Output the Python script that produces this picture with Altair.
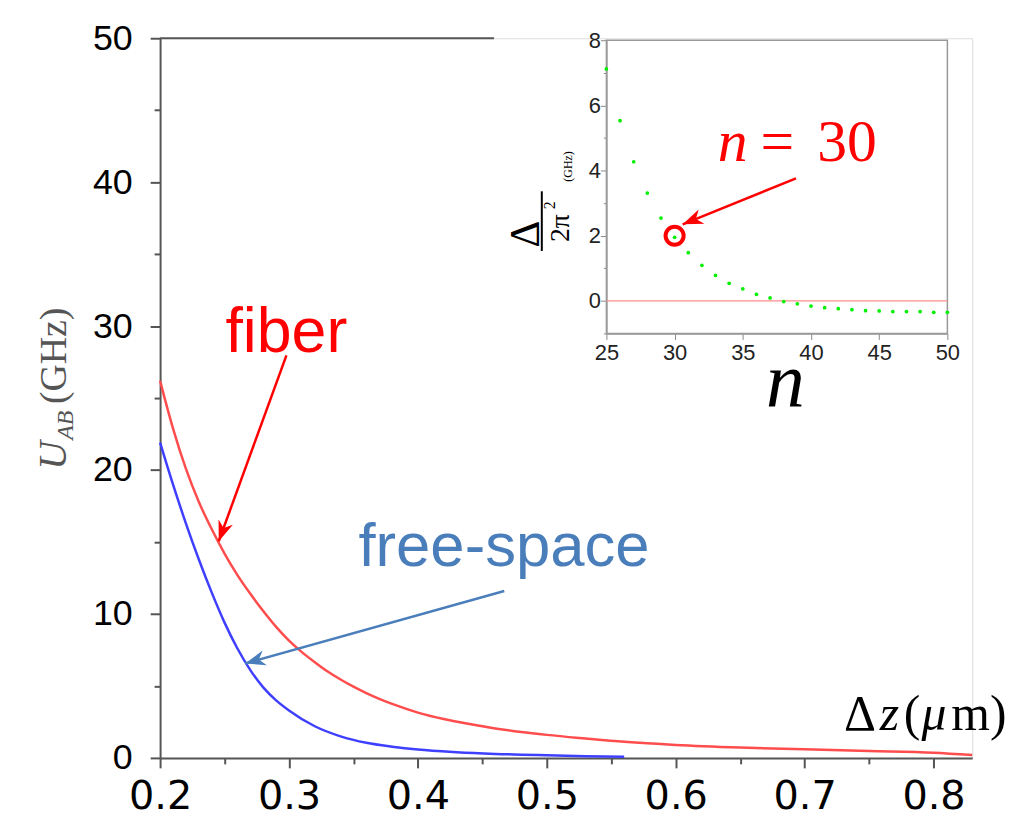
import altair as alt
import pandas as pd

# ---------------- data ----------------
fiber_dz = [0.20, 0.21, 0.22, 0.23, 0.24, 0.25, 0.26, 0.27, 0.28, 0.29, 0.30, 0.31, 0.32,
            0.33, 0.34, 0.35, 0.36, 0.37, 0.38, 0.40, 0.42, 0.44, 0.46, 0.48, 0.50, 0.53,
            0.56, 0.60, 0.65, 0.70, 0.75, 0.80, 0.83]
fiber_u = [26.2, 22.9, 20.1, 17.8, 15.9, 14.2, 12.7, 11.4, 10.2, 9.1, 8.15, 7.35, 6.65,
           6.0, 5.45, 4.95, 4.5, 4.1, 3.75, 3.15, 2.7, 2.35, 2.05, 1.8, 1.6, 1.35,
           1.12, 0.9, 0.72, 0.6, 0.48, 0.36, 0.2]

free_dz = [0.20, 0.21, 0.22, 0.23, 0.24, 0.25, 0.26, 0.27, 0.28, 0.29, 0.30, 0.32, 0.34,
           0.36, 0.38, 0.40, 0.43, 0.46, 0.50, 0.53, 0.56]
free_u = [21.9, 19.0, 16.3, 13.8, 11.5, 9.4, 7.6, 6.1, 4.9, 4.0, 3.3, 2.2, 1.5,
          1.05, 0.78, 0.58, 0.40, 0.28, 0.18, 0.12, 0.08]

inset_n = list(range(25, 51))
inset_delta = [7.12, 5.53, 4.27, 3.31, 2.54, 1.95, 1.48, 1.09, 0.78, 0.54, 0.37, 0.20, 0.09,
               -0.02, -0.09, -0.16, -0.21, -0.24, -0.27, -0.30, -0.31, -0.33, -0.33, -0.33,
               -0.35, -0.35]
highlight_n = [30]
highlight_delta = [2.0]

main_x_ticks = [0.2, 0.25, 0.3, 0.35, 0.4, 0.45, 0.5, 0.55, 0.6, 0.65, 0.7, 0.75, 0.8]
main_y_ticks = [0, 5, 10, 15, 20, 25, 30, 35, 40, 45, 50]
inset_x_ticks = [25, 30, 35, 40, 45, 50]
inset_y_ticks = list(range(-1, 9))

# annotation geometry (data units)
fiber_arrow = {"x0": [0.298], "y0": [27.97], "x1": [0.2455], "y1": [15.05]}
free_arrow = {"x0": [0.467], "y0": [11.6], "x1": [0.266], "y1": [6.56]}
inset_arrow = {"x0": [38.9], "y0": [3.76], "x1": [30.59], "y1": [2.35]}
top_line = {"x0": [0.2], "x1": [0.459], "y": [50]}
inset_frame = {"x0": [25], "x1": [50], "y0": [-1], "y1": [8]}
zero_line = {"x0": [25], "x1": [50], "y": [0]}

# ---------------- layout ----------------
OX, OY = 161, 36
W, H = 817, 724
SANS = "Liberation Sans"
WIDE = "DejaVu Sans"
SERIF = "Liberation Serif"
AXC = "#555555"
ARROW = "M0,0 L-2,-0.75 L-1.4,0 L-2,0.75 Z"

mx = alt.Scale(domain=[0.2, 0.83], nice=False, zero=False)
my = alt.Scale(domain=[0, 50], nice=False, zero=False)
ix = alt.Scale(domain=[25, 50], range=[449, 792], nice=False, zero=False)
iy = alt.Scale(domain=[-1, 8], range=[297, 2], nice=False, zero=False)

x_axis = alt.Axis(
    values=main_x_ticks, orient="bottom", title=None, grid=False,
    labelExpr="round(datum.value*20) % 2 == 0 ? format(datum.value, '.1f') : ''",
    tickSize={"condition": {"test": "round(datum.value*20) % 2 == 0", "value": 10}, "value": 6},
    domainColor=AXC, domainWidth=2, tickColor=AXC, tickWidth=2,
    labelFont=WIDE, labelFontSize=40, labelColor="black", labelPadding=9,
    labelFlush=False, labelOverlap=False,
)
y_axis = alt.Axis(
    values=main_y_ticks, orient="left", title=None, grid=False,
    labelExpr="datum.value % 10 == 0 ? datum.label : ''",
    tickSize={"condition": {"test": "datum.value % 10 == 0", "value": 10}, "value": 6},
    domainColor=AXC, domainWidth=2, tickColor=AXC, tickWidth=2,
    labelFont=SANS, labelFontSize=36, labelColor="black", labelPadding=18,
    labelFlush=False, labelOverlap=False,
)
ix_axis = alt.Axis(
    values=inset_x_ticks, orient="bottom", offset=-427, title=None, grid=False,
    labelExpr="format(datum.value, 'd')", tickSize=6,
    domainColor="#999999", domainWidth=1.5, tickColor="#888888", tickWidth=1,
    labelFont=SANS, labelFontSize=22, labelColor="#222222", labelPadding=3,
    labelFlush=False, labelOverlap=False,
)
iy_axis = alt.Axis(
    values=inset_y_ticks, orient="left", offset=-449, title=None, grid=False,
    labelExpr="datum.value % 2 == 0 && datum.value >= 0 ? format(datum.value, 'd') : ''",
    tickSize={"condition": {"test": "datum.value % 2 == 0", "value": 6}, "value": 3},
    domainColor="#999999", domainWidth=1.5, tickColor="#888888", tickWidth=1,
    labelFont=SANS, labelFontSize=22, labelColor="#222222", labelPadding=0,
    labelFlush=False, labelOverlap=False,
)

# ---------------- main panel ----------------
fiber_df = pd.DataFrame({"dz": fiber_dz, "u": fiber_u})
free_df = pd.DataFrame({"dz": free_dz, "u": free_u})

fiber_line = alt.Chart(fiber_df).mark_line(
    color="#ff4d4d", strokeWidth=2.5, interpolate="monotone"
).encode(x=alt.X("dz:Q", scale=mx, axis=x_axis), y=alt.Y("u:Q", scale=my, axis=y_axis))

free_line = alt.Chart(free_df).mark_line(
    color="#3f3fff", strokeWidth=2.5, interpolate="monotone"
).encode(x=alt.X("dz:Q", scale=mx), y=alt.Y("u:Q", scale=my))

top_rule = alt.Chart(pd.DataFrame(top_line)).mark_rule(color=AXC, strokeWidth=2).encode(
    x=alt.X("x0:Q", scale=mx), x2="x1:Q", y=alt.Y("y:Q", scale=my)
)


def arrow(d, color, width, angle, xs, ys, size):
    df = pd.DataFrame(d)
    shaft = alt.Chart(df).mark_rule(color=color, strokeWidth=width).encode(
        x=alt.X("x0:Q", scale=xs), y=alt.Y("y0:Q", scale=ys), x2="x1:Q", y2="y1:Q"
    )
    head = alt.Chart(df).mark_point(
        shape=ARROW, filled=True, size=size, angle=angle, color=color, opacity=1, strokeWidth=0
    ).encode(x=alt.X("x1:Q", scale=xs), y=alt.Y("y1:Q", scale=ys))
    return [shaft, head]


main = alt.layer(
    top_rule, free_line, fiber_line,
    *arrow(fiber_arrow, "#ff0000", 2.5, 110, mx, my, 420),
    *arrow(free_arrow, "#4a7ebb", 2.5, 164, mx, my, 420),
)

# ---------------- inset ----------------
inset_df = pd.DataFrame({"n": inset_n, "d": inset_delta})
hl_df = pd.DataFrame({"n": highlight_n, "d": highlight_delta})

frame = alt.Chart(pd.DataFrame(inset_frame)).mark_rect(
    fillOpacity=0, stroke="#999999", strokeWidth=1.5
).encode(x=alt.X("x0:Q", scale=ix, axis=ix_axis), x2="x1:Q",
         y=alt.Y("y0:Q", scale=iy, axis=iy_axis), y2="y1:Q")

zero = alt.Chart(pd.DataFrame(zero_line)).mark_rule(color="#ff8c8c", strokeWidth=1.5).encode(
    x=alt.X("x0:Q", scale=ix), x2="x1:Q", y=alt.Y("y:Q", scale=iy)
)

dots = alt.Chart(inset_df).mark_circle(color="#00ee00", size=14, opacity=1).encode(
    x=alt.X("n:Q", scale=ix), y=alt.Y("d:Q", scale=iy)
)

ring = alt.Chart(hl_df).mark_point(
    shape="circle", filled=False, size=330, strokeWidth=4, color="#ff0000", opacity=1
).encode(x=alt.X("n:Q", scale=ix), y=alt.Y("d:Q", scale=iy))

inset = alt.layer(
    frame, zero, dots, ring,
    *arrow(inset_arrow, "#ff0000", 2.5, 158, ix, iy, 420),
)

# ---------------- text ----------------
def label(txt, px, py, size, color="black", font=SANS, style="normal", angle=0, align="center"):
    return alt.Chart(alt.Data(values=[{}])).mark_text(
        text=txt, fontSize=size, color=color, font=font, fontStyle=style,
        angle=angle, align=align, baseline="alphabetic"
    ).encode(x=alt.value(px - OX), y=alt.value(py - OY))


texts = [
    label("fiber", 288, 352, 63, color="#ff0000"),
    label("free-space", 507, 567, 62, color="#4a7ebb"),
    # x-axis label Δz(μm)
    label("Δ", 849, 732, 50, font=SERIF, align="left"),
    label("z", 885, 732, 50, font=SERIF, style="italic", align="left"),
    label("(", 909, 732, 50, font=SERIF, align="left"),
    label("μ", 927, 732, 50, font=SERIF, style="italic", align="left"),
    label("m)", 957, 732, 50, font=SERIF, align="left"),
    # y-axis title U_AB (GHz)
    label("U", 66, 470, 40, color="#555555", font=SERIF, style="italic", angle=270, align="left"),
    label("AB", 73, 440, 24, color="#555555", font=SERIF, style="italic", angle=270, align="left"),
    label("(GHz)", 66, 404, 38, color="#555555", font=SERIF, angle=270, align="left"),
    # inset annotation n = 30
    label("n", 722, 160, 60, color="#ff0000", font=SERIF, style="italic", align="left"),
    label("=", 765, 160, 60, color="#ff0000", font=SERIF, align="left"),
    label("30", 822, 160, 60, color="#ff0000", font=SERIF, align="left"),
    # inset x title
    label("n", 790, 407, 78, font=SERIF, style="italic"),
    # inset y title  Δ2 / 2π (GHz)
    label("Δ", 542, 233, 42, font=SERIF, angle=270),
    label("2", 558, 204, 16, font=SERIF, angle=270),
    label("2π", 572, 227, 28, font=SERIF, angle=270),
    label("(GHz)", 575, 165, 12, font=SERIF, angle=270),
]

frac_bar = alt.Chart(alt.Data(values=[{}])).mark_rule(color="black", strokeWidth=2).encode(
    x=alt.value(545 - OX), y=alt.value(190 - OY), y2=alt.value(250 - OY)
)

chart = alt.layer(main, inset, frac_bar, *texts).resolve_scale(
    x="independent", y="independent"
).properties(
    width=W, height=H,
    padding={"left": OX - 8, "top": OY - 8, "right": 38, "bottom": 51},
    autosize=alt.AutoSizeParams(type="none"),
).configure_view(stroke=None).configure(background="white")

chart.save("out.html", embed_options={"renderer": "svg", "actions": False})
